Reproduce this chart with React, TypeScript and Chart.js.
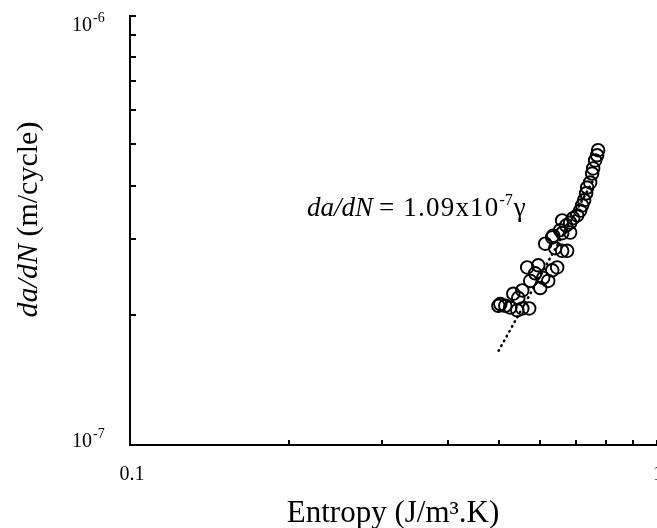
import React, { useEffect, useRef } from "react";
import { Chart, registerables } from "chart.js";

Chart.register(...registerables);

const SERIF = '"Liberation Serif", "Times New Roman", serif';

// ---- data ----
const entropy = [
  0.7727, 0.7693, 0.7627, 0.7561, 0.7528, 0.7463, 0.7365, 0.7333, 0.7269, 0.7206,
  0.7143, 0.705, 0.6928, 0.6837, 0.6718, 0.6602, 0.6544, 0.6321,
  0.6348, 0.6602, 0.6837, 0.613, 0.6404, 0.6602, 0.6748,
  0.5665, 0.5946, 0.5868, 0.6077, 0.6211, 0.6321, 0.6459, 0.5998, 0.5741,
  0.5545, 0.5331, 0.5448, 0.5036, 0.5147, 0.5261, 0.5424, 0.5545, 0.5715, 0.4993,
];
const crackRate = [
  4.84e-7, 4.71e-7, 4.58e-7, 4.39e-7, 4.27e-7, 4.07e-7, 3.96e-7, 3.84e-7, 3.7e-7, 3.6e-7,
  3.5e-7, 3.41e-7, 3.36e-7, 3.28e-7, 3.23e-7, 3.32e-7, 3.15e-7, 3.03e-7,
  3.06e-7, 3.1e-7, 3.11e-7, 2.93e-7, 2.86e-7, 2.82e-7, 2.82e-7,
  2.58e-7, 2.61e-7, 2.5e-7, 2.44e-7, 2.4e-7, 2.54e-7, 2.58e-7, 2.31e-7, 2.4e-7,
  2.28e-7, 2.24e-7, 2.19e-7, 2.12e-7, 2.1e-7, 2.08e-7, 2.05e-7, 2.07e-7, 2.07e-7, 2.1e-7,
];
const trendX = [0.5, 0.76];
const trendY = [1.65e-7, 4.16e-7];

const xMin = 0.1;
const xMax = 1;
const yMin = 1e-7;
const yMax = 1e-6;
const xTickValues = [0.1, 1];
const xTickLabels = ["0.1", "1"];
const yTickValues = [1e-7, 1e-6];
const yTickBase = ["10", "10"];
const yTickExp = ["-7", "-6"];
const xMinorTicks = [0.2, 0.3, 0.4, 0.5, 0.6, 0.7, 0.8, 0.9, 1.0];
const yMinorTicks = [2e-7, 3e-7, 4e-7, 5e-7, 6e-7, 7e-7, 8e-7, 9e-7, 1e-6];

const xTitle = "Entropy (J/m³.K)";
const yTitleItalic = "da/dN";
const yTitleRest = " (m/cycle)";
const annItalic = "da/dN";
const annMain = " = 1.09x10";
const annExp = "-7";
const annTail = "γ";

const decorPlugin = {
  id: "decor",
  afterDraw(chart: any) {
    const { ctx } = chart;
    const xs = chart.scales.x;
    const ys = chart.scales.y;
    const left = xs.getPixelForValue(xMin);
    const right = xs.getPixelForValue(xMax);
    const bottom = ys.getPixelForValue(yMin);
    const top = ys.getPixelForValue(yMax);
    ctx.save();
    ctx.strokeStyle = "#000";
    ctx.fillStyle = "#000";
    ctx.lineWidth = 2;
    ctx.lineCap = "butt";
    // axes
    ctx.beginPath();
    ctx.moveTo(left - 1, top);
    ctx.lineTo(left - 1, bottom + 1);
    ctx.lineTo(right, bottom + 1);
    ctx.stroke();
    // minor ticks (inward)
    yMinorTicks.forEach((v) => {
      const py = Math.round(ys.getPixelForValue(v)) + (v === yMax ? 1 : 0);
      ctx.beginPath();
      ctx.moveTo(left - 1, py);
      ctx.lineTo(left + 5, py);
      ctx.stroke();
    });
    xMinorTicks.forEach((v) => {
      const px = Math.round(xs.getPixelForValue(v));
      ctx.beginPath();
      ctx.moveTo(px, bottom + 1);
      ctx.lineTo(px, bottom - 4);
      ctx.stroke();
    });
    // x tick labels
    ctx.font = `20px ${SERIF}`;
    ctx.textAlign = "center";
    ctx.textBaseline = "alphabetic";
    xTickValues.forEach((v, i) => {
      const px = xs.getPixelForValue(v);
      ctx.fillText(xTickLabels[i], px + 1, bottom + 36);
    });
    // y tick labels with superscripts
    yTickValues.forEach((v, i) => {
      const py = ys.getPixelForValue(v);
      const base = v === yMax ? py + 16 : py + 3;
      ctx.font = `20px ${SERIF}`;
      ctx.textAlign = "right";
      ctx.fillText(yTickBase[i], 92, base);
      ctx.font = `14px ${SERIF}`;
      ctx.textAlign = "left";
      ctx.fillText(yTickExp[i], 93, base - 9);
    });
    // x title
    ctx.font = `31px ${SERIF}`;
    ctx.textAlign = "center";
    ctx.fillText(xTitle, (left + right) / 2 - 1, bottom + 78);
    // y title (rotated, mixed italic)
    ctx.save();
    const cy = (top + bottom) / 2 - 10;
    ctx.translate(37, cy);
    ctx.rotate(-Math.PI / 2);
    ctx.font = `italic 30px ${SERIF}`;
    const w1 = ctx.measureText(yTitleItalic).width;
    ctx.font = `30px ${SERIF}`;
    const w2 = ctx.measureText(yTitleRest).width;
    const sx = -(w1 + w2) / 2;
    ctx.textAlign = "left";
    ctx.font = `italic 30px ${SERIF}`;
    ctx.fillText(yTitleItalic, sx, 0);
    ctx.font = `30px ${SERIF}`;
    ctx.fillText(yTitleRest, sx + w1, 0);
    ctx.restore();
    // annotation
    const ax = 307;
    const ay = 216;
    const fs = 27;
    ctx.textAlign = "left";
    ctx.font = `italic ${fs}px ${SERIF}`;
    ctx.fillText(annItalic, ax, ay);
    let cx = ax + ctx.measureText(annItalic).width - 2;
    ctx.font = `${fs}px ${SERIF}`;
    (ctx as any).letterSpacing = "1.2px";
    ctx.fillText(annMain, cx, ay);
    cx += ctx.measureText(annMain).width;
    (ctx as any).letterSpacing = "0px";
    ctx.font = `16px ${SERIF}`;
    ctx.fillText(annExp, cx, ay - 11);
    cx += ctx.measureText(annExp).width + 1;
    ctx.font = `${fs}px ${SERIF}`;
    ctx.fillText(annTail, cx, ay);
    ctx.restore();
  },
};

export default function App() {
  const canvasRef = useRef<HTMLCanvasElement | null>(null);

  useEffect(() => {
    if (!canvasRef.current) return;
    const chart = new Chart(canvasRef.current, {
      type: "scatter",
      data: {
        datasets: [
          {
            type: "line",
            label: "trend",
            data: trendX.map((x, i) => ({ x, y: trendY[i] })),
            borderColor: "#000",
            borderWidth: 2.6,
            borderDash: [0.5, 5],
            borderCapStyle: "round",
            pointRadius: 0,
            fill: false,
            order: 2,
          } as any,
          {
            label: "data",
            data: entropy.map((x, i) => ({ x, y: crackRate[i] })),
            backgroundColor: "rgba(0,0,0,0)",
            borderColor: "#000",
            borderWidth: 1.9,
            pointRadius: 6.3,
            pointStyle: "circle",
            order: 1,
          },
        ],
      },
      options: {
        animation: false,
        responsive: true,
        maintainAspectRatio: false,
        layout: { autoPadding: false, padding: { top: 15, right: 0, left: 0, bottom: 0 } },
        plugins: {
          legend: { display: false },
          tooltip: { enabled: false },
        },
        scales: {
          x: {
            type: "logarithmic",
            min: xMin,
            max: xMax,
            grid: { display: false, drawTicks: false },
            border: { display: false },
            ticks: { display: false },
            afterFit: (s: any) => {
              s.height = 84;
            },
          },
          y: {
            type: "logarithmic",
            min: yMin,
            max: yMax,
            grid: { display: false, drawTicks: false },
            border: { display: false },
            ticks: { display: false },
            afterFit: (s: any) => {
              s.width = 131;
            },
          },
        },
      },
      plugins: [decorPlugin],
    });
    return () => chart.destroy();
  }, []);

  return (
    <div
      style={{
        position: "fixed",
        left: 0,
        top: 0,
        width: 657,
        height: 528,
        background: "#fff",
      }}
    >
      <canvas ref={canvasRef} />
    </div>
  );
}
